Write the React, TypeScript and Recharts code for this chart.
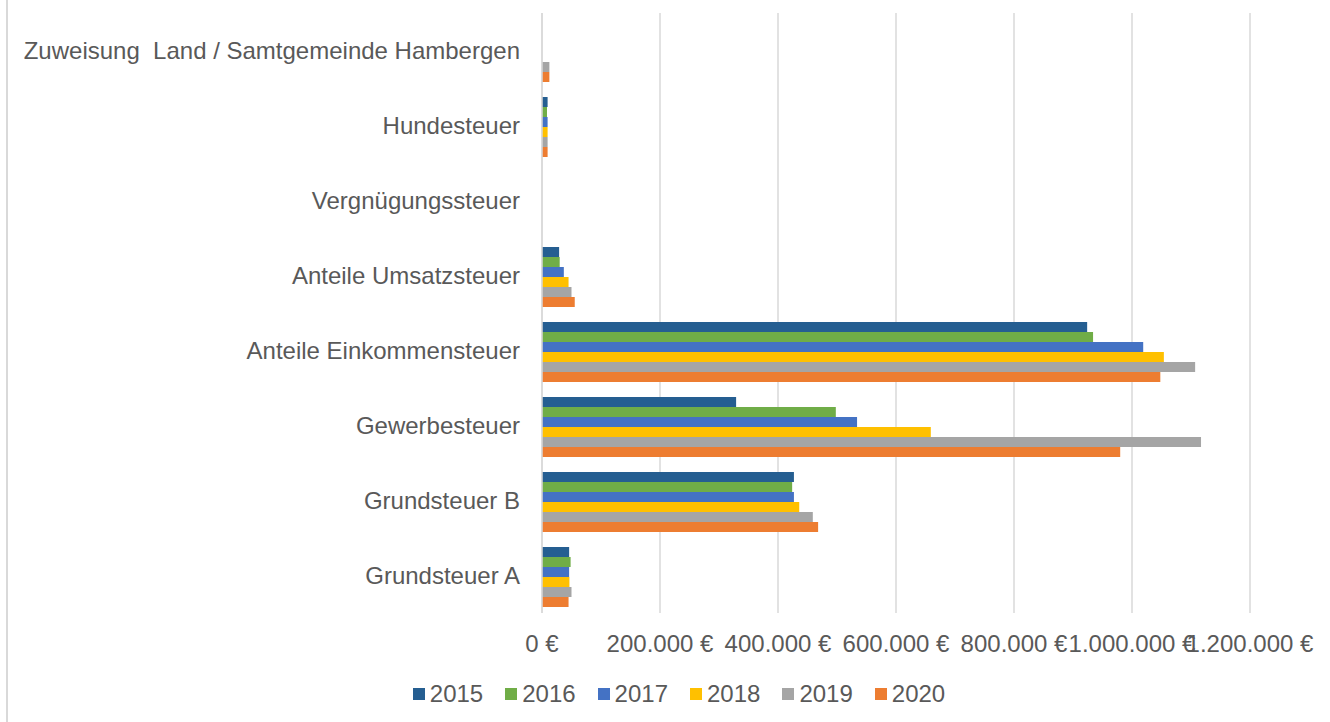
import React from 'react';
import { BarChart, Bar, XAxis, YAxis, CartesianGrid, Legend } from 'recharts';

const categories = [
  'Zuweisung  Land / Samtgemeinde Hambergen',
  'Hundesteuer',
  'Vergnügungssteuer',
  'Anteile Umsatzsteuer',
  'Anteile Einkommensteuer',
  'Gewerbesteuer',
  'Grundsteuer B',
  'Grundsteuer A',
];

const years = ['2015', '2016', '2017', '2018', '2019', '2020'];
const colors = ['#255E91', '#70AD47', '#4472C4', '#FFC000', '#A5A5A5', '#ED7D31'];

const v2015 = [0, 9500, 0, 29000, 924000, 329000, 427000, 46000];
const v2016 = [0, 8500, 0, 30000, 934000, 498000, 424000, 48500];
const v2017 = [0, 9500, 0, 37000, 1019000, 534000, 427000, 46000];
const v2018 = [0, 9500, 0, 45000, 1054000, 659000, 436000, 46500];
const v2019 = [12500, 9500, 0, 50000, 1107000, 1117000, 459000, 50000];
const v2020 = [12500, 9500, 0, 55500, 1048000, 980000, 468000, 45000];

const xTicks = [0, 200000, 400000, 600000, 800000, 1000000, 1200000];

const series = [v2015, v2016, v2017, v2018, v2019, v2020];
const data = categories.map((name, i) => {
  const row: Record<string, string | number> = { name };
  years.forEach((y, k) => {
    row[y] = series[k][i];
  });
  return row;
});

const textColor = '#595959';
const font = '"Liberation Sans", Arial, sans-serif';

const fmtEuro = (v: number) =>
  v === 0 ? '0 €' : `${v.toString().replace(/\B(?=(\d{3})+(?!\d))/g, '.')} €`;

const CategoryTick = (props: any) => {
  const { x, y, payload } = props;
  return (
    <text
      x={x}
      y={y}
      dy={8}
      textAnchor="end"
      fill={textColor}
      fontSize={24}
      fontFamily={font}
      style={{ whiteSpace: 'pre' }}
    >
      {payload.value}
    </text>
  );
};

const LegendContent = () => (
  <div
    style={{
      display: 'flex',
      justifyContent: 'center',
      alignItems: 'center',
      gap: 22,
      height: 40,
      fontFamily: font,
      fontSize: 24,
      color: textColor,
      paddingLeft: 108,
    }}
  >
    {years.map((y, i) => (
      <div key={y} style={{ display: 'flex', alignItems: 'center' }}>
        <span style={{ width: 12, height: 12, background: colors[i], marginRight: 5, display: 'inline-block' }} />
        <span>{y}</span>
      </div>
    ))}
  </div>
);

export default function App() {
  return (
    <div style={{ position: 'absolute', left: 0, top: 0, width: 1330, height: 722, background: '#fff' }}>
      <div style={{ position: 'absolute', left: 6, top: 0, width: 2, height: 722, background: '#d9d9d9' }} />
      <BarChart
        width={1330}
        height={722}
        data={data}
        layout="vertical"
        margin={{ top: 13, right: 80, left: 0, bottom: 8 }}
        barCategoryGap={9}
        barGap={0}
      >
        <CartesianGrid horizontal={false} stroke="#d9d9d9" strokeWidth={1.5} />
        <XAxis
          type="number"
          domain={[0, 1200000]}
          ticks={xTicks}
          tickFormatter={fmtEuro}
          axisLine={false}
          tickLine={false}
          tick={{ fill: textColor, fontSize: 24, fontFamily: font }}
          tickMargin={16}
          height={61}
          interval={0}
        />
        <YAxis
          type="category"
          dataKey="name"
          width={542}
          axisLine={{ stroke: '#d9d9d9', strokeWidth: 1.5 }}
          tickLine={false}
          tickSize={0}
          tickMargin={22}
          tick={<CategoryTick />}
          interval={0}
        />
        <Legend verticalAlign="bottom" content={<LegendContent />} />
        {years.map((y, i) => (
          <Bar key={y} dataKey={y} fill={colors[i]} isAnimationActive={false} />
        ))}
      </BarChart>
    </div>
  );
}
